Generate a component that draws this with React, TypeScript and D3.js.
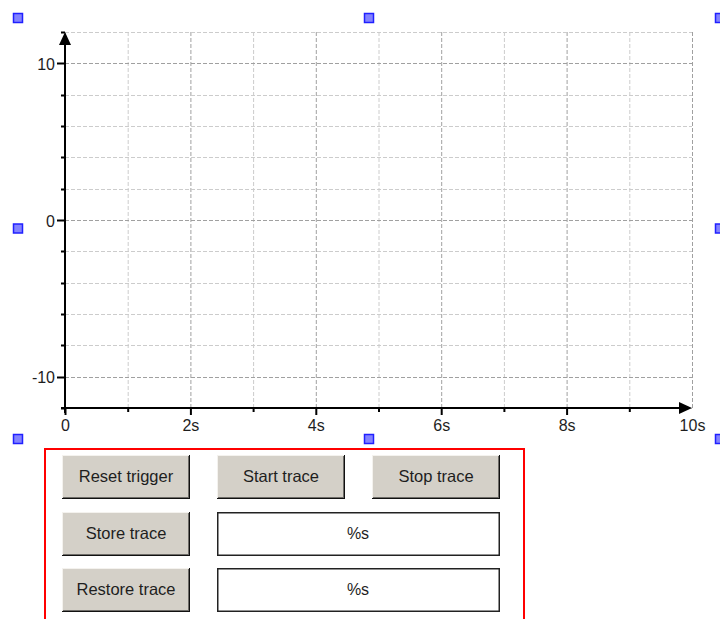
import React from "react";
import * as d3 from "d3";

// ---- data ----
const xDomain = [0, 10];
const yDomain = [-12, 12];
const xMajorTicks = [0, 2, 4, 6, 8, 10];
const xMajorLabels = ["0", "2s", "4s", "6s", "8s", "10s"];
const xMinorTicks = [1, 3, 5, 7, 9];
const yMajorTicks = [-10, 0, 10];
const yMajorLabels = ["-10", "0", "10"];
const yMinorTicks = [-12, -8, -6, -4, -2, 2, 4, 6, 8, 12];
const buttonRows = [
  ["Reset trigger", "Start trace", "Stop trace"],
  ["Store trace"],
  ["Restore trace"],
];
const fieldTexts = ["%s", "%s"];

const W = 720;
const H = 619;
const FONT = "'Liberation Sans', Arial, sans-serif";

export default function App() {
  const x = d3.scaleLinear().domain(xDomain).range([65, 692]);
  const y = d3.scaleLinear().domain(yDomain).range([408, 32]);

  const xGrid = d3.range(xDomain[0], xDomain[1] + 1, 1);
  const yGrid = d3.range(yDomain[0], yDomain[1] + 1, 2);

  const handles: [number, number][] = [
    [18, 18], [369, 18], [720, 18],
    [18, 228.5], [720, 228.5],
    [18, 439], [369, 439], [720, 439],
  ];

  const btnX = [62, 217, 372];
  const btnW = 128;
  const rowY = [455, 512, 568];
  const btnH = 44;

  const Button = ({ bx, by, label }: { bx: number; by: number; label: string }) => (
    <g>
      <rect x={bx} y={by} width={btnW} height={btnH} fill="#d4d0c8" />
      <line x1={bx} y1={by + 0.5} x2={bx + btnW} y2={by + 0.5} stroke="#f4f2ee" />
      <line x1={bx + 0.5} y1={by} x2={bx + 0.5} y2={by + btnH} stroke="#f4f2ee" />
      <line x1={bx} y1={by + btnH - 0.5} x2={bx + btnW} y2={by + btnH - 0.5} stroke="#111" />
      <line x1={bx + btnW - 0.5} y1={by} x2={bx + btnW - 0.5} y2={by + btnH} stroke="#111" />
      <line x1={bx + 1} y1={by + btnH - 1.5} x2={bx + btnW - 1} y2={by + btnH - 1.5} stroke="#6e6c68" />
      <line x1={bx + btnW - 1.5} y1={by + 1} x2={bx + btnW - 1.5} y2={by + btnH - 1} stroke="#6e6c68" />
      <text
        x={bx + btnW / 2}
        y={by + btnH / 2 - 1}
        textAnchor="middle"
        dominantBaseline="central"
        fontSize={16.5}
        fill="#1e1e1e"
      >
        {label}
      </text>
    </g>
  );

  return (
    <svg
      width={W}
      height={H}
      style={{ position: "absolute", left: 0, top: 0, background: "#fff" }}
      fontFamily={FONT}
    >
      {/* grid */}
      {xGrid.map((v) => (
        <line
          key={"gx" + v}
          x1={x(v) + 0.5}
          x2={x(v) + 0.5}
          y1={y(yDomain[1])}
          y2={y(yDomain[0])}
          stroke={v % 2 === 0 ? "#a0a0a0" : "#cccccc"}
          strokeWidth={1}
          strokeDasharray="4,2"
        />
      ))}
      {yGrid.map((v) => (
        <line
          key={"gy" + v}
          x1={x(xDomain[0])}
          x2={x(xDomain[1])}
          y1={Math.round(y(v)) + 0.5}
          y2={Math.round(y(v)) + 0.5}
          stroke={v % 10 === 0 ? "#a0a0a0" : "#cccccc"}
          strokeWidth={1}
          strokeDasharray="4,2"
        />
      ))}

      {/* axes */}
      <line x1={x(0)} x2={x(0)} y1={y(yDomain[1]) + 6} y2={y(yDomain[0]) + 5} stroke="#000" strokeWidth={2} />
      <line x1={x(0) - 4} x2={x(xDomain[1]) - 6} y1={y(-12)} y2={y(-12)} stroke="#000" strokeWidth={2} />
      <path
        d={`M${x(0)},${y(yDomain[1])} L${x(0) - 6},${y(yDomain[1]) + 13} L${x(0) + 6},${y(yDomain[1]) + 13} Z`}
        fill="#000"
      />
      <path
        d={`M${x(xDomain[1])},${y(-12)} L${x(xDomain[1]) - 13},${y(-12) - 6} L${x(xDomain[1]) - 13},${y(-12) + 6} Z`}
        fill="#000"
      />

      {/* y ticks */}
      {yMajorTicks.map((v, i) => (
        <g key={"yt" + v}>
          <line x1={x(0) - 8} x2={x(0)} y1={Math.round(y(v)) + 0.5} y2={Math.round(y(v)) + 0.5} stroke="#000" strokeWidth={2} />
          <text
            x={55}
            y={y(v) + 1}
            textAnchor="end"
            dominantBaseline="central"
            fontSize={16}
            fill="#1e1e1e"
          >
            {yMajorLabels[i]}
          </text>
        </g>
      ))}
      {yMinorTicks.map((v) => (
        <line key={"ym" + v} x1={x(0) - 4} x2={x(0)} y1={Math.round(y(v)) + 0.5} y2={Math.round(y(v)) + 0.5} stroke="#000" strokeWidth={2} />
      ))}

      {/* x ticks */}
      {xMajorTicks.map((v, i) => (
        <g key={"xt" + v}>
          {v !== xDomain[1] && (
            <line x1={x(v) + 0.5} x2={x(v) + 0.5} y1={y(-12)} y2={y(-12) + 7} stroke="#000" strokeWidth={2} />
          )}
          <text x={x(v) + 0.5} y={431} textAnchor="middle" fontSize={16} fill="#1e1e1e">
            {xMajorLabels[i]}
          </text>
        </g>
      ))}
      {xMinorTicks.map((v) => (
        <line key={"xm" + v} x1={x(v) + 0.5} x2={x(v) + 0.5} y1={y(-12)} y2={y(-12) + 4} stroke="#000" strokeWidth={2} />
      ))}

      {/* selection handles */}
      {handles.map(([hx, hy]) => (
        <rect
          key={`h${hx}-${hy}`}
          x={hx - 4.5}
          y={hy - 4.5}
          width={9}
          height={9}
          fill="#8282ff"
          stroke="#2020ff"
          strokeWidth={1.5}
        />
      ))}

      {/* control panel */}
      <rect x={45} y={449} width={479} height={200} fill="none" stroke="#ff0000" strokeWidth={2} />
      {buttonRows.map((row, ri) =>
        row.map((label, ci) => <Button key={label} bx={btnX[ci]} by={rowY[ri]} label={label} />)
      )}
      {fieldTexts.map((t, i) => (
        <g key={"f" + i}>
          <rect
            x={217.75}
            y={rowY[i + 1] + 0.75}
            width={281.5}
            height={btnH - 1.5}
            fill="#fff"
            stroke="#222"
            strokeWidth={1.5}
          />
          <text
            x={358}
            y={rowY[i + 1] + btnH / 2 - 1}
            textAnchor="middle"
            dominantBaseline="central"
            fontSize={16}
            fill="#1e1e1e"
          >
            {t}
          </text>
        </g>
      ))}
    </svg>
  );
}
